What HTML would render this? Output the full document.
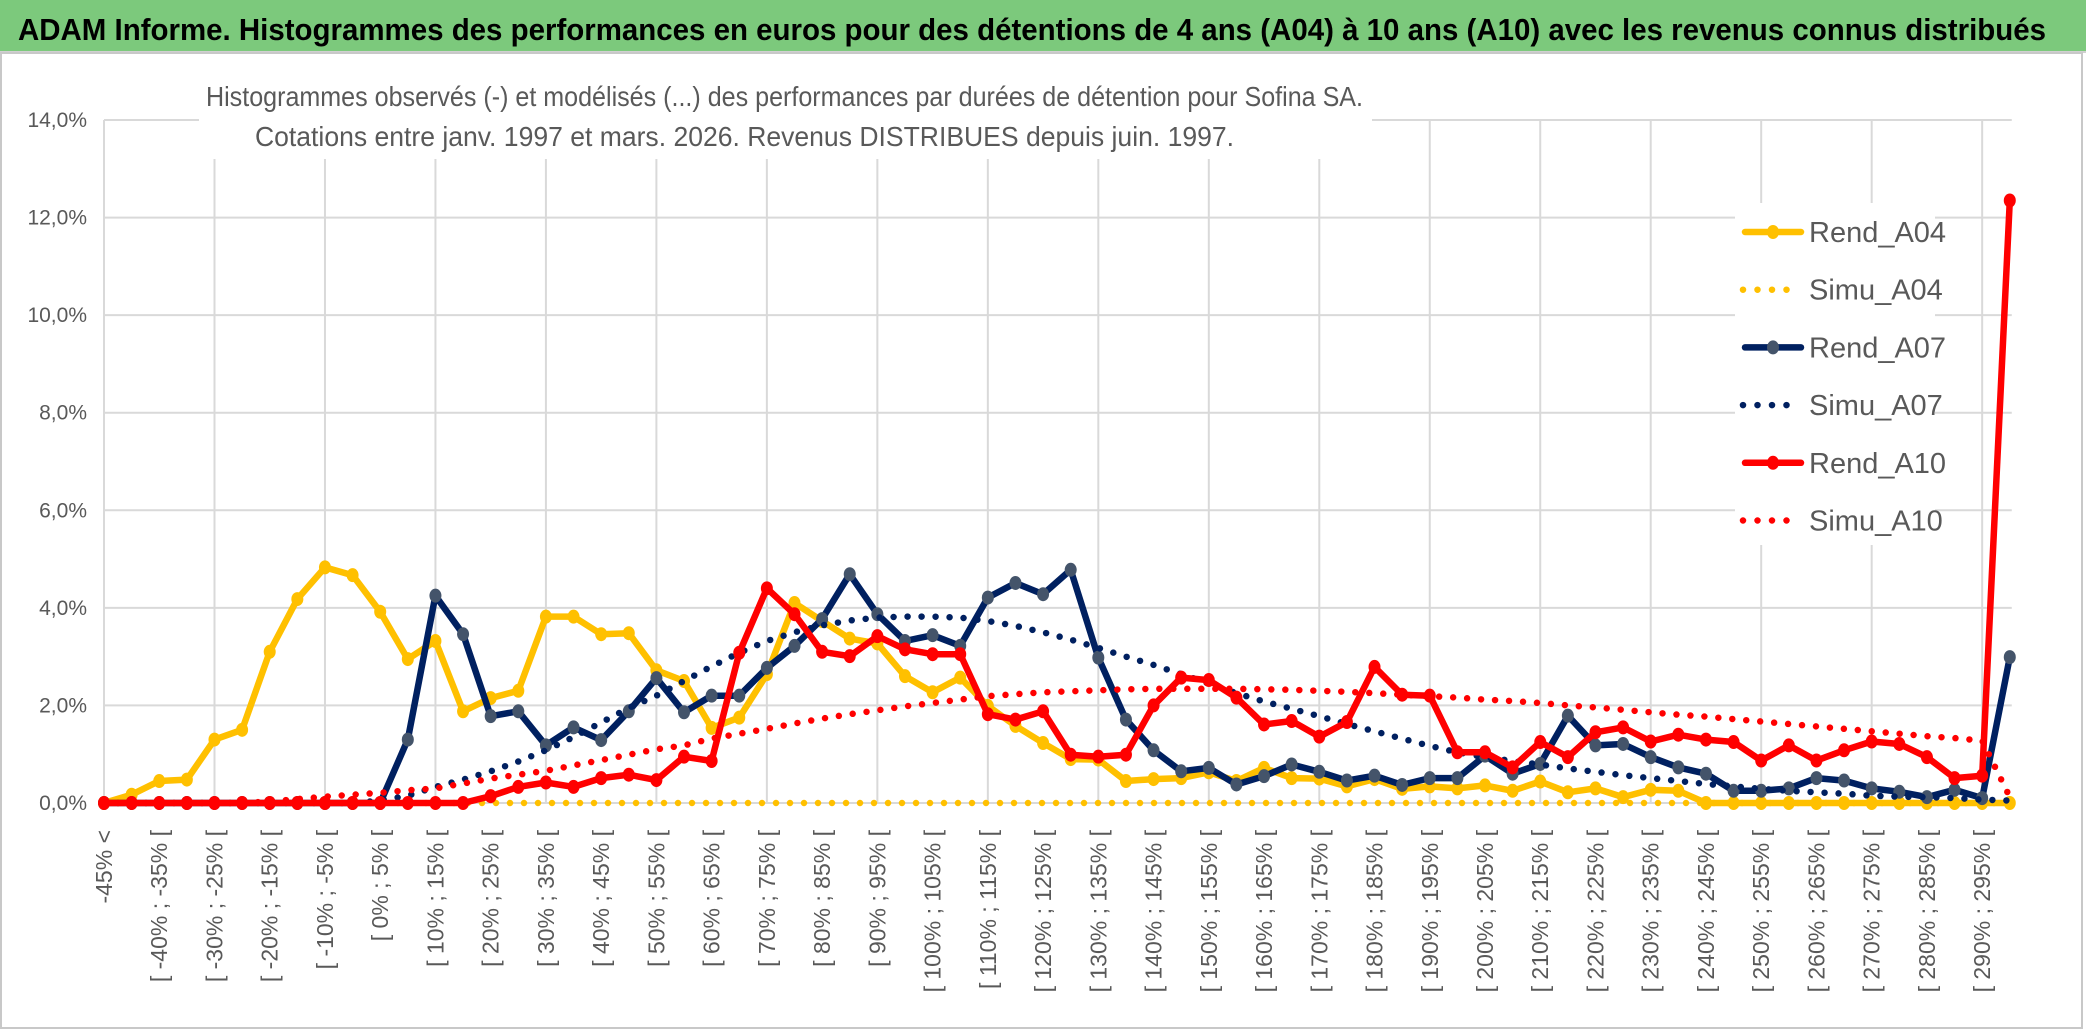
<!DOCTYPE html>
<html><head><meta charset="utf-8"><style>
html,body{margin:0;padding:0;background:#fff;}
svg{display:block;font-family:"Liberation Sans Narrow","Liberation Sans",sans-serif;}
</style></head><body>
<svg id="chart" width="2086" height="1031" viewBox="0 0 2086 1031" xmlns="http://www.w3.org/2000/svg">
<rect x="0" y="0" width="2086" height="1031" fill="#fff"/>
<rect x="0" y="0" width="2086" height="51" fill="#7cc97c"/>
<line x1="0" y1="52" x2="2086" y2="52" stroke="#d0d0d0" stroke-width="2"/>
<text x="18" y="40" font-size="31" font-weight="bold" fill="#000" textLength="2028" lengthAdjust="spacingAndGlyphs">ADAM Informe. Histogrammes des performances en euros pour des détentions de 4 ans (A04) à 10 ans (A10) avec les revenus connus distribués</text>
<rect x="1" y="53" width="2081" height="975" fill="none" stroke="#c8c8c8" stroke-width="2"/>
<g id="grid"></g>
<rect x="199" y="60" width="1173" height="99" fill="#fff"/>
<text x="206" y="106" font-size="28" fill="#595959" textLength="1157" lengthAdjust="spacingAndGlyphs">Histogrammes observés (-) et modélisés (...) des performances par durées de détention pour Sofina SA.</text>
<text x="255" y="146" font-size="28" fill="#595959" textLength="979" lengthAdjust="spacingAndGlyphs">Cotations entre janv. 1997 et mars. 2026. Revenus DISTRIBUES depuis juin. 1997.</text>
<g id="yaxis"></g>
<g id="xaxis"></g>
<g id="series"></g>
<rect x="1735" y="203" width="200" height="342" fill="#fff"/>
<g id="legend"></g>
</svg>
<script>
const categories = ["-45% <","[ -45% ; -40% [","[ -40% ; -35% [","[ -35% ; -30% [","[ -30% ; -25% [","[ -25% ; -20% [","[ -20% ; -15% [","[ -15% ; -10% [","[ -10% ; -5% [","[ -5% ; 0% [","[ 0% ; 5% [","[ 5% ; 10% [","[ 10% ; 15% [","[ 15% ; 20% [","[ 20% ; 25% [","[ 25% ; 30% [","[ 30% ; 35% [","[ 35% ; 40% [","[ 40% ; 45% [","[ 45% ; 50% [","[ 50% ; 55% [","[ 55% ; 60% [","[ 60% ; 65% [","[ 65% ; 70% [","[ 70% ; 75% [","[ 75% ; 80% [","[ 80% ; 85% [","[ 85% ; 90% [","[ 90% ; 95% [","[ 95% ; 100% [","[ 100% ; 105% [","[ 105% ; 110% [","[ 110% ; 115% [","[ 115% ; 120% [","[ 120% ; 125% [","[ 125% ; 130% [","[ 130% ; 135% [","[ 135% ; 140% [","[ 140% ; 145% [","[ 145% ; 150% [","[ 150% ; 155% [","[ 155% ; 160% [","[ 160% ; 165% [","[ 165% ; 170% [","[ 170% ; 175% [","[ 175% ; 180% [","[ 180% ; 185% [","[ 185% ; 190% [","[ 190% ; 195% [","[ 195% ; 200% [","[ 200% ; 205% [","[ 205% ; 210% [","[ 210% ; 215% [","[ 215% ; 220% [","[ 220% ; 225% [","[ 225% ; 230% [","[ 230% ; 235% [","[ 235% ; 240% [","[ 240% ; 245% [","[ 245% ; 250% [","[ 250% ; 255% [","[ 255% ; 260% [","[ 260% ; 265% [","[ 265% ; 270% [","[ 270% ; 275% [","[ 275% ; 280% [","[ 280% ; 285% [","[ 285% ; 290% [","[ 290% ; 295% [","[ 295% ; 300% ["];
const rendA04 = [0,0.17,0.45,0.48,1.3,1.5,3.1,4.18,4.83,4.67,3.92,2.95,3.32,1.88,2.15,2.3,3.82,3.82,3.46,3.48,2.72,2.5,1.54,1.75,2.64,4.1,3.73,3.37,3.27,2.6,2.27,2.57,1.99,1.58,1.23,0.9,0.89,0.45,0.49,0.51,0.63,0.45,0.72,0.51,0.5,0.34,0.49,0.29,0.34,0.3,0.36,0.25,0.44,0.22,0.3,0.12,0.27,0.25,0,0,0,0,0,0,0,0,0,0,0,0];
const simuA04 = [0,0,0,0,0,0,0,0,0,0,0,0,0,0,0,0,0,0,0,0,0,0,0,0,0,0,0,0,0,0,0,0,0,0,0,0,0,0,0,0,0,0,0,0,0,0,0,0,0,0,0,0,0,0,0,0,0,0,0,0,0,0,0,0,0,0,0,0,0,0];
const rendA07 = [0,0,0,0,0,0,0,0,0,0,0,1.3,4.25,3.46,1.78,1.88,1.18,1.55,1.29,1.88,2.56,1.86,2.2,2.2,2.77,3.22,3.77,4.69,3.87,3.32,3.44,3.22,4.21,4.51,4.28,4.78,2.98,1.71,1.08,0.65,0.72,0.38,0.55,0.79,0.64,0.46,0.56,0.37,0.51,0.51,0.97,0.6,0.8,1.79,1.18,1.21,0.94,0.73,0.6,0.25,0.25,0.3,0.51,0.46,0.3,0.23,0.12,0.27,0.1,2.99];
const simuA07 = [0,0,0,0,0,0,0,0,0,0,0.05,0.15,0.33,0.48,0.65,0.85,1.08,1.35,1.65,1.95,2.2,2.5,2.8,3.08,3.32,3.5,3.64,3.74,3.8,3.82,3.82,3.8,3.73,3.63,3.5,3.35,3.18,3.0,2.83,2.64,2.45,2.25,2.08,1.93,1.78,1.62,1.47,1.32,1.17,1.04,0.94,0.86,0.79,0.71,0.64,0.57,0.51,0.45,0.39,0.34,0.29,0.25,0.22,0.19,0.15,0.13,0.12,0.1,0.07,0.05];
const rendA10 = [0,0,0,0,0,0,0,0,0,0,0,0,0,0,0.14,0.33,0.42,0.33,0.51,0.58,0.47,0.95,0.86,3.08,4.4,3.87,3.1,3.01,3.42,3.15,3.05,3.05,1.82,1.71,1.88,0.99,0.95,0.99,2.0,2.57,2.52,2.16,1.61,1.68,1.36,1.66,2.79,2.22,2.2,1.04,1.04,0.73,1.25,0.94,1.45,1.55,1.26,1.4,1.3,1.25,0.87,1.18,0.87,1.08,1.26,1.21,0.94,0.51,0.56,12.35];
const simuA10 = [0,0,0,0,0,0,0.03,0.08,0.13,0.17,0.21,0.26,0.3,0.4,0.5,0.58,0.66,0.77,0.88,0.99,1.1,1.18,1.32,1.42,1.52,1.63,1.73,1.82,1.9,1.98,2.05,2.12,2.19,2.23,2.27,2.29,2.31,2.33,2.34,2.34,2.34,2.34,2.33,2.32,2.3,2.28,2.25,2.22,2.19,2.16,2.12,2.09,2.05,2.0,1.96,1.91,1.86,1.81,1.77,1.72,1.67,1.62,1.57,1.52,1.47,1.42,1.37,1.33,1.28,0.12];
const yTicks = [0,2,4,6,8,10,12,14];
const yTickLabels = ["0,0%","2,0%","4,0%","6,0%","8,0%","10,0%","12,0%","14,0%"];
const legendNames = ["Rend_A04","Simu_A04","Rend_A07","Simu_A07","Rend_A10","Simu_A10"];

const NS = "http://www.w3.org/2000/svg";
const X0 = 104, XSTEP = 27.62, Y0 = 803, YTOP = 120, YMAX = 14;
function xPos(i){ return X0 + i * XSTEP; }
function yPos(v){ return Y0 - v / YMAX * (Y0 - YTOP); }
function mk(tag, attrs, parent){ const e = document.createElementNS(NS, tag); for (const k in attrs) e.setAttribute(k, attrs[k]); parent.appendChild(e); return e; }

const grid = document.getElementById('grid');
const lastX = xPos(categories.length - 1) + 2;
yTicks.forEach((t) => {
  const l = mk('line', {x1: X0, x2: lastX, y1: yPos(t), y2: yPos(t), stroke: '#d9d9d9', 'stroke-width': 2}, grid);
  
  
});
for (let i = 0; i < categories.length; i += 4) {
  const l = mk('line', {x1: xPos(i), x2: xPos(i), y1: YTOP, y2: Y0, stroke: '#d9d9d9', 'stroke-width': 2}, grid);
  
  
}

const yaxis = document.getElementById('yaxis');
yTicks.forEach((t, k) => {
  const tx = mk('text', {x: 87, y: yPos(t) + 7, 'text-anchor': 'end', 'font-size': 21, fill: '#595959'}, yaxis);
  tx.textContent = yTickLabels[k];
  
  
});

const xaxis = document.getElementById('xaxis');
categories.forEach((c, i) => {
  if (i % 2 !== 0) return;
  const x = xPos(i) + 8, y = 830;
  const tx = mk('text', {x: x, y: y, 'text-anchor': 'end', 'font-size': 23, fill: '#595959', transform: 'rotate(-90 ' + x + ' ' + y + ')'}, xaxis);
  tx.textContent = c;
  
  
});

const series = document.getElementById('series');
function pts(arr){ return arr.map((v, i) => xPos(i).toFixed(1) + ',' + yPos(v).toFixed(1)).join(' '); }
function solid(arr, color, mcolor, name){
  const g = mk('g', {}, series);
  
  
  mk('polyline', {points: pts(arr), fill: 'none', stroke: color, 'stroke-width': 6.5, 'stroke-linejoin': 'round', 'stroke-linecap': 'round'}, g);
  arr.forEach((v, i) => {
    const c = mk('ellipse', {cx: xPos(i), cy: yPos(v), rx: 6, ry: 7, fill: mcolor}, g);
    
    
  });
}
function dotted(arr, color, name){
  const p = mk('polyline', {points: pts(arr), fill: 'none', stroke: color, 'stroke-width': 6.5, 'stroke-dasharray': '0 14', 'stroke-linecap': 'round'}, series);
  
  
}
solid(rendA04, '#ffc000', '#ffc000', 'rend-a04-line');
dotted(simuA04, '#ffc000', 'simu-a04-line');
solid(rendA07, '#002060', '#44546a', 'rend-a07-line');
dotted(simuA07, '#002060', 'simu-a07-line');
solid(rendA10, '#ff0000', '#ff0000', 'rend-a10-line');
dotted(simuA10, '#ff0000', 'simu-a10-line');

const legend = document.getElementById('legend');
const legendColors = ['#ffc000','#ffc000','#002060','#002060','#ff0000','#ff0000'];
const legendMarker = ['#ffc000',null,'#44546a',null,'#ff0000',null];
legendNames.forEach((n, k) => {
  const y = 232 + k * 57.7;
  const g = mk('g', {}, legend);
  
  
  if (legendMarker[k]) {
    mk('line', {x1: 1745, x2: 1801, y1: y, y2: y, stroke: legendColors[k], 'stroke-width': 6.5, 'stroke-linecap': 'round'}, g);
    mk('ellipse', {cx: 1773, cy: y, rx: 6, ry: 7, fill: legendMarker[k]}, g);
  } else {
    mk('line', {x1: 1743, x2: 1800, y1: y, y2: y, stroke: legendColors[k], 'stroke-width': 6.5, 'stroke-dasharray': '0 14.5', 'stroke-linecap': 'round'}, g);
  }
  const t = mk('text', {x: 1809, y: y + 10, 'font-size': 29, fill: '#595959'}, g);
  t.textContent = n;
});
</script>
</body></html>
